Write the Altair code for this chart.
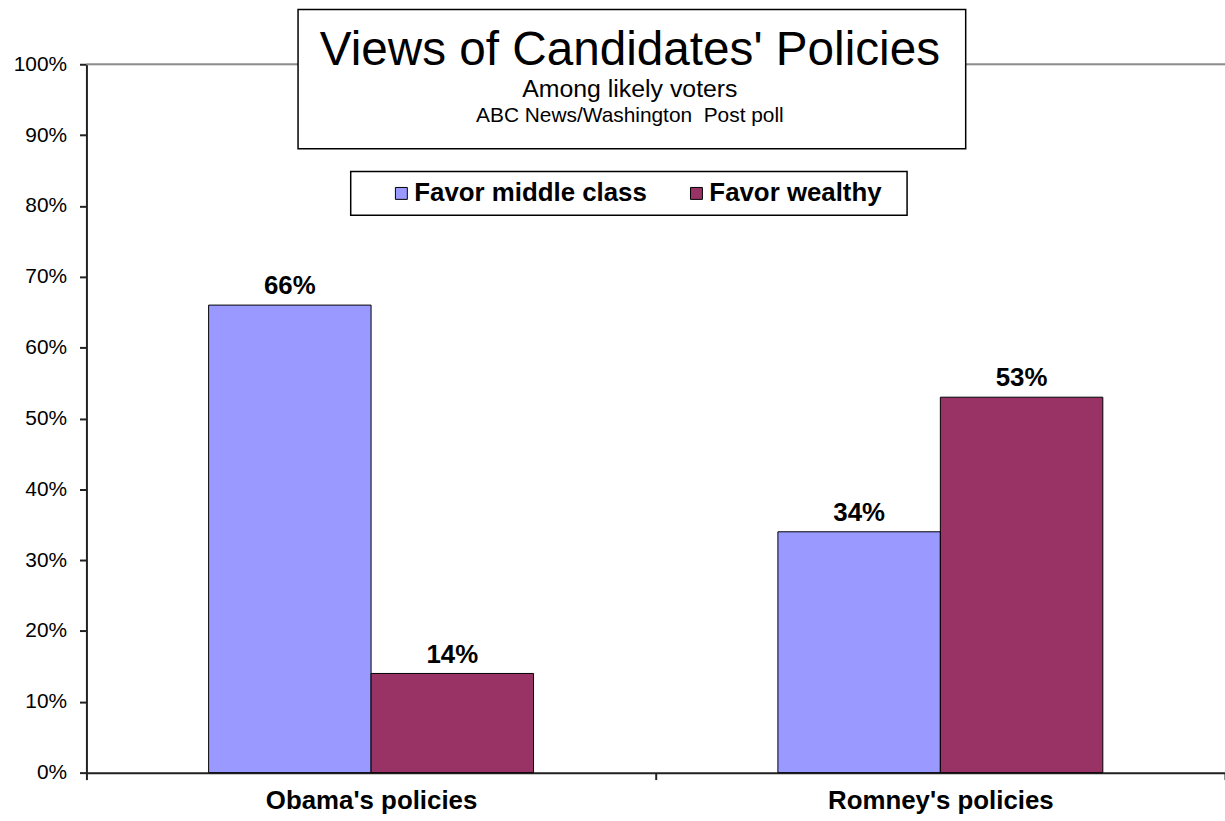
import altair as alt
import pandas as pd

categories = ["Obama's policies", "Romney's policies"]
series = ["Favor middle class", "Favor wealthy"]
middle_class = [0.66, 0.34]
wealthy = [0.14, 0.53]
colors = ["#9999FF", "#993366"]

rows = []
for i, c in enumerate(categories):
    rows.append({"category": c, "series": series[0], "value": middle_class[i]})
    rows.append({"category": c, "series": series[1], "value": wealthy[i]})
df = pd.DataFrame(rows)
df["label"] = (df["value"] * 100).round().astype(int).astype(str) + "%"

FONT = "Liberation Sans"
W, H = 1146, 713

xscale = alt.Scale(paddingInner=0, paddingOuter=0)
xoff_scale = alt.Scale(paddingInner=0, paddingOuter=0.752)
yscale = alt.Scale(domain=[0, 1])

base = alt.Chart(df)

bars = base.mark_bar(stroke="black", strokeWidth=1).encode(
    x=alt.X("category:N", scale=xscale, sort=categories,
            axis=alt.Axis(title=None, labelAngle=0, labelFont=FONT, labelFontSize=26,
                          labelFontWeight="bold", labelColor="black", domainColor="#222222",
                          tickColor="#222222", tickSize=7, tickBand="extent", labelPadding=8,
                          labelLimit=0, domainWidth=2, tickWidth=2)),
    xOffset=alt.XOffset("series:N", sort=series, scale=xoff_scale),
    y=alt.Y("value:Q", scale=yscale,
            axis=alt.Axis(title=None, format=".0%", values=[i / 10 for i in range(11)],
                          labelFont=FONT, labelFontSize=21, labelColor="black",
                          domainColor="#222222", tickColor="#222222", tickSize=7,
                          labelPadding=13, grid=False, domainWidth=2, tickWidth=2)),
    color=alt.Color("series:N", sort=series,
                    scale=alt.Scale(domain=series, range=colors),
                    legend=alt.Legend(title=None, orient="none", legendX=304, legendY=117,
                                      direction="horizontal", symbolType="square",
                                      symbolSize=144, symbolStrokeColor="black",
                                      symbolStrokeWidth=1, labelFont=FONT, labelFontSize=26,
                                      labelFontWeight="bold", labelColor="black",
                                      labelLimit=0, padding=0,
                                      columnPadding=36, symbolOffset=0, labelOffset=0)),
)

labels = base.mark_text(font=FONT, fontSize=26, fontWeight="bold", baseline="alphabetic",
                        dy=-11, color="black").encode(
    x=alt.X("category:N", scale=xscale, sort=categories),
    xOffset=alt.XOffset("series:N", sort=series, scale=xoff_scale),
    y=alt.Y("value:Q", scale=yscale),
    text="label:N",
)

top_line = alt.Chart(pd.DataFrame({"v": [1.0]})).mark_rule(color="#8c8c8c", strokeWidth=2).encode(
    y=alt.Y("v:Q", scale=yscale)
)

title_box = alt.Chart(pd.DataFrame({"a": [0]})).mark_rect(
    fill="white", stroke="black", strokeWidth=1.5).encode(
    x=alt.value(213), x2=alt.value(885), y=alt.value(-55), y2=alt.value(85))

legend_box = alt.Chart(pd.DataFrame({"a": [0]})).mark_rect(
    fillOpacity=0, stroke="black", strokeWidth=1.5).encode(
    x=alt.value(266), x2=alt.value(826), y=alt.value(108), y2=alt.value(152))

t1 = alt.Chart(pd.DataFrame({"t": ["Views of Candidates' Policies"]})).mark_text(
    font=FONT, fontSize=48, color="black", baseline="alphabetic").encode(
    x=alt.value(547), y=alt.value(1), text="t:N")
t2 = alt.Chart(pd.DataFrame({"t": ["Among likely voters"]})).mark_text(
    font=FONT, fontSize=25, color="black", baseline="alphabetic").encode(
    x=alt.value(547), y=alt.value(33), text="t:N")
t3 = alt.Chart(pd.DataFrame({"t": ["ABC News/Washington\u00a0 Post poll"]})).mark_text(
    font=FONT, fontSize=21, color="black", baseline="alphabetic").encode(
    x=alt.value(547), y=alt.value(58), text="t:N")

chart = alt.layer(top_line, bars, labels, title_box, t1, t2, t3, legend_box).properties(
    width=W, height=H,
    autosize=alt.AutoSizeParams(type="none"),
    padding={"left": 87, "top": 62, "right": 0, "bottom": 46},
).configure_view(stroke=None).configure(background="white")

chart.save("out.html", embed_options={"renderer": "svg", "actions": False})
